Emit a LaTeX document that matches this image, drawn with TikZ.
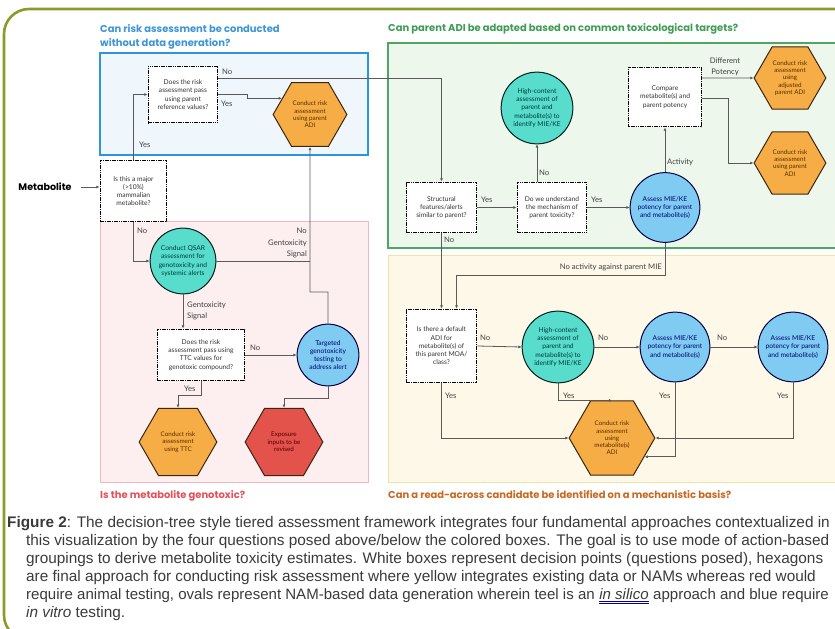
\documentclass[tikz,border=0pt]{standalone}
\usepackage{fontspec}
\setmainfont{Liberation Sans}
\newfontfamily\latofont{Lato}
\newfontfamily\popfont{Poppins}
\usetikzlibrary{shapes.geometric,arrows.meta,calc}

\definecolor{frameolive}{HTML}{8C9A2B}
\definecolor{regblue}{HTML}{2D95DB}
\definecolor{regbluefill}{HTML}{EFF7FD}
\definecolor{reggreen}{HTML}{4FA565}
\definecolor{reggreenfill}{HTML}{EEF7EC}
\definecolor{regpink}{HTML}{F2B7BC}
\definecolor{regpinkfill}{HTML}{FDEFF0}
\definecolor{regyellow}{HTML}{F3E2A2}
\definecolor{regyellowfill}{HTML}{FDF8E8}
\definecolor{titleblue}{HTML}{3D94D6}
\definecolor{titlegreen}{HTML}{3E9C55}
\definecolor{titlered}{HTML}{E5505A}
\definecolor{titleorange}{HTML}{C9681F}
\definecolor{tealfill}{HTML}{58DDCC}
\definecolor{bluefill}{HTML}{7FCBF1}
\definecolor{hexorange}{HTML}{F7AD45}
\definecolor{hexredfill}{HTML}{E4524C}
\definecolor{linegray}{HTML}{5A5A5A}
\definecolor{captext}{HTML}{3A3A3A}

\tikzset{
	every node/.style={font=\latofont\fontsize{6.7}{8.3}\selectfont},
	question/.style={draw=black, line width=1.1bp, dash pattern=on 1.6bp off 0.7bp, fill=white, align=center, inner sep=1bp, text=black!80},
	tealcirc/.style={circle, draw=black!75!teal, line width=1bp, fill=tealfill, align=center, inner sep=0pt, text=teal!45!black},
	bluecirc/.style={circle, draw=black!75!blue, line width=1bp, fill=bluefill, align=center, inner sep=0pt, text=blue!45!black},
	hexa/.style={regular polygon, regular polygon sides=6, draw=black!70!brown, line width=1bp, fill=hexorange, align=center, inner sep=0pt, text=orange!35!black, font=\latofont\fontsize{6.3}{7.3}\selectfont},
	hexared/.style={hexa, fill=hexredfill, text=red!30!black},
	arr/.style={draw=linegray, line width=0.8bp, -{Latex[length=3.2bp,width=3bp]}},
	link/.style={draw=linegray, line width=0.8bp},
	lbl/.style={font=\latofont\fontsize{7.7}{11.5}\selectfont, text=black!75, inner sep=0pt},
	regtitle/.style={font=\popfont\bfseries\fontsize{10}{14}\selectfont, inner sep=0pt, align=left},
	caption/.style={font=\fontsize{15.4}{18}\selectfont, text=captext, inner sep=0pt, anchor=base west},
	captight/.style={caption, font=\fontsize{15.1}{18}\selectfont},
}

\begin{document}
\begin{tikzpicture}[x=1bp,y=-1bp]
	\useasboundingbox (0,0) rectangle (835,629);
	% frame and coloured regions
	\draw[frameolive, line width=2.6bp, rounded corners=25bp] (4,9) rectangle (900,640);
	\filldraw[fill=regbluefill, draw=regblue, line width=1.6bp] (100,53) rectangle (368,155);
	\filldraw[fill=regpinkfill, draw=regpink, line width=0.8bp] (100,221) rectangle (368,482);
	\filldraw[fill=reggreenfill, draw=reggreen, line width=1.4bp] (388,43) rectangle (850,248);
	\filldraw[fill=regyellowfill, draw=regyellow, line width=1bp] (388,255) rectangle (850,482);
	
	\node[regtitle, text=titleblue, anchor=north west] (qblue) at (100,24) {Can risk assessment be conducted\\without data generation?};
	\node[regtitle, text=titlegreen, anchor=base west] (qgreen) at (388,32) {Can parent ADI be adapted based on common toxicological targets?};
	\node[regtitle, text=titlered, anchor=base west] (qpink) at (100,498) {Is the metabolite genotoxic?};
	\node[regtitle, text=titleorange, anchor=base west] (qyellow) at (388,498) {Can a read-across candidate be identified on a mechanistic basis?};
	
	% left half
	\node[font=\popfont\bfseries\fontsize{9.6}{11}\selectfont] (metab) at (45,187) {Metabolite};
	\node[question, minimum width=67, minimum height=62] (major) at (133.5,191) {Is this a major\\(>10\%)\\mammalian\\metabolite?};
	\node[question, minimum width=70, minimum height=57] (refval) at (183,94.5) {Does the risk\\assessment pass\\using parent\\reference values?};
	\node[hexa, minimum size=74] (hexparent) at (310,114.5) {Conduct risk\\assessment\\using parent\\ADI};
	\node[tealcirc, minimum size=66] (qsar) at (183,261) {Conduct QSAR\\assessment for\\genotoxicity and\\systemic alerts};
	\node[question, minimum width=88, minimum height=52] (ttc) at (201,355) {Does the risk\\assessment pass using\\TTC values for\\genotoxic compound?};
	\node[bluecirc, minimum size=62] (targeted) at (328,355) {Targeted\\genotoxicity\\testing to\\address alert};
	\node[hexa, minimum size=78] (hexttc) at (178,442) {Conduct risk\\assessment\\using TTC};
	\node[hexared, minimum size=78] (hexred) at (284,442) {Exposure\\inputs to be\\revised};
	\coordinate (jn) at (310,292);
	
	% right half
	\node[question, minimum width=71, minimum height=51] (struct) at (441.5,207.5) {Structural\\features/alerts\\similar to parent?};
	\node[question, minimum width=70, minimum height=51] (understand) at (552,207.5) {Do we understand\\the mechanism of\\parent toxicity?};
	\node[tealcirc, minimum size=72] (hcA) at (537,108) {High-content\\assessment of\\parent and\\metabolite(s) to\\identify MIE/KE};
	\node[bluecirc, minimum size=70] (assessA) at (665,207.5) {Assess MIE/KE\\potency for parent\\and metabolite(s)};
	\node[question, minimum width=73, minimum height=60] (compare) at (665,97) {Compare\\metabolite(s) and\\parent potency};
	\node[hexa, minimum size=72] (hexadj) at (790,78) {Conduct risk\\assessment\\using\\adjusted\\parent ADI};
	\node[hexa, minimum size=72] (hexpartwo) at (790,163) {Conduct risk\\assessment\\using parent\\ADI};
	\node[question, minimum width=71, minimum height=74] (default) at (441.5,346) {Is there a default\\ADI for\\metabolite(s) of\\this parent MOA/\\class?};
	\node[tealcirc, minimum size=72] (hcB) at (558,347) {High-content\\assessment of\\parent and\\metabolite(s) to\\identify MIE/KE};
	\node[bluecirc, minimum size=70] (assessB) at (675,347) {Assess MIE/KE\\potency for parent\\and metabolite(s)};
	\node[bluecirc, minimum size=70] (assessC) at (793,347) {Assess MIE/KE\\potency for parent\\and metabolite(s)};
	\node[hexa, minimum size=86] (hexmet) at (612,438) {Conduct risk\\assessment\\using\\metabolite(s)\\ADI};
	
	% connectors
	\draw[arr] ([xshift=6bp]metab.east) -- (major.west |- metab);
	\draw[arr] (major.north) |- (refval.west);
	\draw[arr] (refval.east) -- ++(29,0) |- (hexparent.side 2);
	\draw[arr] ([yshift=16bp]refval.east) -| (struct.north);
	\draw[arr] (major.south) |- (qsar.west);
	\draw[link] (qsar.east) -- (qsar.east -| jn);
	\draw[arr] (targeted.north) |- (jn) -- (hexparent.south);
	\draw[arr] (qsar.south) -- (qsar.south |- ttc.north);
	\draw[arr] (ttc.east) -- (targeted.west);
	\draw[arr] (ttc.south) -- ++(0,14) -| (hexttc.north);
	\draw[arr] (targeted.south) -- ++(0,12) -| (hexred.north);
	\draw[arr] (struct.east) -- (understand.west);
	\draw[arr] (understand.north -| hcA) -- (hcA.south);
	\draw[arr] (understand.east) -- (assessA.west);
	\draw[arr] (assessA.north) -- (compare.south);
	\draw[arr] ([yshift=19bp]compare.east) -- (hexadj.west);
	\draw[arr] ([yshift=-1bp]compare.east) -- ++(26,0) |- (hexpartwo.west);
	\draw[arr] (struct.south) -- (default.north);
	\draw[arr] (assessA.south) -- ++(0,33) -| ([xshift=15bp]default.north);
	\draw[arr] (default.east) -- (hcB.west);
	\draw[arr] (hcB.east) -- (assessB.west);
	\draw[arr] (assessB.east) -- (assessC.west);
	\draw[arr] (default.south) |- (hexmet.west);
	\draw[arr] (hcB.south) |- (hexmet.side 1);
	\draw[arr] (assessB.south) |- (hexmet.side 5);
	\draw[arr] (assessC.south) |- (hexmet.east);
	
	% connector labels
	\node[lbl, anchor=west] (yesA) at (139,145) {Yes};
	\node[lbl, anchor=west] (noA) at (222,72) {No};
	\node[lbl, anchor=west] (yesB) at (221,104) {Yes};
	\node[lbl, anchor=west] (noB) at (137,231) {No};
	\node[lbl, anchor=east, align=right] (nosig) at (307,243) {No\\Gentoxicity\\Signal};
	\node[lbl, anchor=west, align=left] (sig) at (187,311) {Gentoxicity\\Signal};
	\node[lbl, anchor=west] (noC) at (250,348) {No};
	\node[lbl, anchor=west] (yesC) at (184,389) {Yes};
	\node[lbl, anchor=west] (yesD) at (481,200) {Yes};
	\node[lbl, anchor=west] (noD) at (539,173) {No};
	\node[lbl, anchor=west] (yesE) at (591,200) {Yes};
	\node[lbl, anchor=west] (noE) at (444,240) {No};
	\node[lbl, anchor=west] (act) at (667,162) {Activity};
	\node[lbl, align=center] (diff) at (725,67) {Different\\Potency};
	\node[lbl, anchor=east] (noact) at (662,267) {No activity against parent MIE};
	\node[lbl, anchor=west] (noF) at (480,338) {No};
	\node[lbl, anchor=west] (noG) at (598,338) {No};
	\node[lbl, anchor=west] (noH) at (717,338) {No};
	\node[lbl, anchor=west] (yesF) at (445,396) {Yes};
	\node[lbl, anchor=west] (yesG) at (563,396) {Yes};
	\node[lbl, anchor=west] (yesH) at (659,396) {Yes};
	\node[lbl, anchor=west] (yesI) at (777,396) {Yes};
	
	% caption
	\node[caption] (capA) at (7,527) {\textbf{Figure 2}: The decision-tree style tiered assessment framework integrates four fundamental approaches contextualized in};
	\node[caption] (capB) at (26,545) {this visualization by the four questions posed above/below the colored boxes. The goal is to use mode of action-based};
	\node[caption] (capC) at (26,563) {groupings to derive metabolite toxicity estimates. White boxes represent decision points (questions posed), hexagons};
	\node[caption] (capD) at (26,581) {are final approach for conducting risk assessment where yellow integrates existing data or NAMs whereas red would};
	\node[captight] (capE) at (26,599) {require animal testing, ovals represent NAM-based data generation wherein teel is an};
	\node[captight] (silico) at ([xshift=4.1bp]capE.base east) {\itshape in silico};
	\node[captight] (capF) at ([xshift=4.1bp]silico.base east) {approach and blue require};
	\node[caption] (capG) at (26,617) {\itshape in vitro\upshape{} testing.};
	\draw[blue!65!black, line width=0.6bp] ([yshift=-2.5bp]silico.base west) -- ([yshift=-2.5bp]silico.base east);
	\draw[blue!65!black, line width=0.6bp] ([yshift=-4.3bp]silico.base west) -- ([yshift=-4.3bp]silico.base east);
\end{tikzpicture}
\end{document}
